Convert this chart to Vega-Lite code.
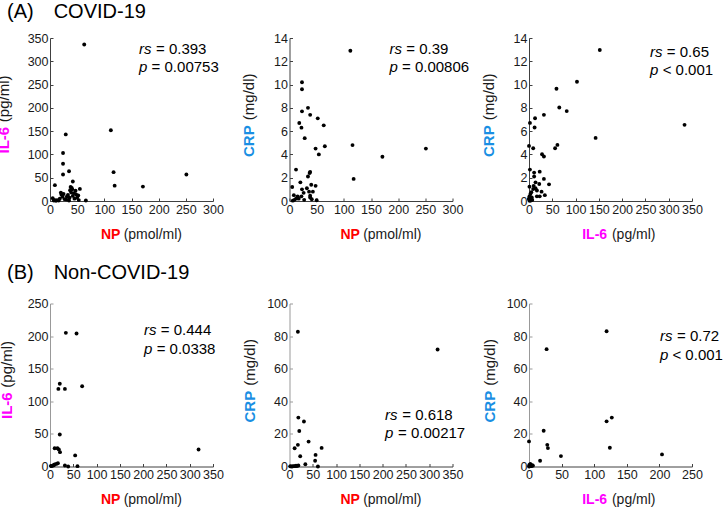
{
"$schema":"https://vega.github.io/schema/vega-lite/v6.json",
"padding":{"left":-5,"top":2,"right":2,"bottom":2},
"config":{"font":"Liberation Sans","view":{"stroke":null},
 "axis":{"grid":false,"labelFontSize":12.5,"labelColor":"#1a1a1a","titleFontSize":15,"titleColor":"#1a1a1a","titleFontWeight":"normal","domainColor":"#404040","tickColor":"#404040","tickSize":-3,"labelPadding":5,"labelFlush":false,"labelOverlap":false,"titlePadding":0},
 "axisX":{"titleFontSize":14},
 "text":{"font":"Liberation Sans","fontSize":15,"color":"#000"}},
"datasets":{
"p1":[{"NP":63,"IL6":336},{"NP":112,"IL6":152},{"NP":117,"IL6":62},{"NP":119,"IL6":33},{"NP":171,"IL6":31},{"NP":251,"IL6":57},{"NP":29,"IL6":143},{"NP":24,"IL6":103},{"NP":24,"IL6":80},{"NP":35,"IL6":64},{"NP":24,"IL6":57},{"NP":9,"IL6":34},{"NP":42,"IL6":42},{"NP":40,"IL6":28},{"NP":37,"IL6":23},{"NP":55,"IL6":26},{"NP":5,"IL6":6},{"NP":9,"IL6":2},{"NP":13,"IL6":2},{"NP":18,"IL6":5},{"NP":21,"IL6":14},{"NP":23,"IL6":9},{"NP":27,"IL6":4},{"NP":31,"IL6":9},{"NP":33,"IL6":13},{"NP":36,"IL6":7},{"NP":39,"IL6":18},{"NP":42,"IL6":11},{"NP":45,"IL6":5},{"NP":48,"IL6":14},{"NP":50,"IL6":7},{"NP":53,"IL6":2},{"NP":66,"IL6":1},{"NP":7,"IL6":1},{"NP":11,"IL6":0.5},{"NP":16,"IL6":1},{"NP":20,"IL6":18},{"NP":25,"IL6":15},{"NP":30,"IL6":3},{"NP":38,"IL6":30},{"NP":41,"IL6":25},{"NP":44,"IL6":17},{"NP":35,"IL6":1},{"NP":47,"IL6":22},{"NP":52,"IL6":12}],
"p2":[{"NP":112,"CRP":12.9},{"NP":116,"CRP":4.8},{"NP":118,"CRP":1.9},{"NP":171,"CRP":3.8},{"NP":251,"CRP":4.5},{"NP":23,"CRP":10.2},{"NP":23,"CRP":9.6},{"NP":34,"CRP":8.0},{"NP":23,"CRP":7.7},{"NP":38,"CRP":7.4},{"NP":18,"CRP":6.7},{"NP":22,"CRP":6.3},{"NP":52,"CRP":7.1},{"NP":63,"CRP":6.5},{"NP":28,"CRP":5.4},{"NP":48,"CRP":4.5},{"NP":65,"CRP":4.7},{"NP":54,"CRP":4.0},{"NP":12,"CRP":2.7},{"NP":34,"CRP":2.1},{"NP":38,"CRP":2.5},{"NP":37,"CRP":2.4},{"NP":20,"CRP":1.6},{"NP":5,"CRP":1.2},{"NP":23,"CRP":1.0},{"NP":32,"CRP":1.1},{"NP":40,"CRP":1.4},{"NP":48,"CRP":1.3},{"NP":36,"CRP":0.8},{"NP":43,"CRP":0.8},{"NP":8,"CRP":0.5},{"NP":15,"CRP":0.4},{"NP":22,"CRP":0.4},{"NP":26,"CRP":0.7},{"NP":27,"CRP":0.1},{"NP":12,"CRP":0.2},{"NP":6,"CRP":0.03},{"NP":38,"CRP":0.3},{"NP":41,"CRP":0.15},{"NP":50,"CRP":0.06},{"NP":9,"CRP":0.1},{"NP":17,"CRP":0.2},{"NP":38,"CRP":0.45}],
"p3":[{"IL6":152,"CRP":12.97},{"IL6":103,"CRP":10.24},{"IL6":59,"CRP":9.64},{"IL6":65,"CRP":8.03},{"IL6":81,"CRP":7.72},{"IL6":32,"CRP":7.4},{"IL6":13,"CRP":7.11},{"IL6":2,"CRP":6.71},{"IL6":12,"CRP":6.31},{"IL6":334,"CRP":6.54},{"IL6":143,"CRP":5.42},{"IL6":61,"CRP":4.82},{"IL6":56,"CRP":4.53},{"IL6":0,"CRP":4.73},{"IL6":9,"CRP":4.53},{"IL6":28,"CRP":4.02},{"IL6":32,"CRP":3.82},{"IL6":2,"CRP":2.7},{"IL6":23,"CRP":2.52},{"IL6":11,"CRP":2.44},{"IL6":11,"CRP":2.1},{"IL6":32,"CRP":1.9},{"IL6":43,"CRP":1.43},{"IL6":14,"CRP":1.6},{"IL6":22,"CRP":1.46},{"IL6":1,"CRP":1.23},{"IL6":9,"CRP":1.03},{"IL6":14,"CRP":1.09},{"IL6":5,"CRP":0.75},{"IL6":27,"CRP":0.8},{"IL6":17,"CRP":0.4},{"IL6":23,"CRP":0.4},{"IL6":34,"CRP":0.5},{"IL6":1,"CRP":0.4},{"IL6":0,"CRP":0.17},{"IL6":3,"CRP":0.03},{"IL6":7,"CRP":0.09},{"IL6":3,"CRP":0.6},{"IL6":10,"CRP":1.3},{"IL6":0,"CRP":0.2},{"IL6":6,"CRP":0.3},{"IL6":1,"CRP":0.03},{"IL6":17,"CRP":0.9}],
"p4":[{"NP":34,"IL6":205},{"NP":57,"IL6":204},{"NP":21,"IL6":127},{"NP":18,"IL6":119},{"NP":32,"IL6":119},{"NP":69,"IL6":123},{"NP":21,"IL6":49},{"NP":10,"IL6":28},{"NP":16,"IL6":28},{"NP":19,"IL6":26},{"NP":21.5,"IL6":22},{"NP":54,"IL6":17},{"NP":3,"IL6":0.5},{"NP":6.6,"IL6":1.5},{"NP":10,"IL6":3},{"NP":13.5,"IL6":4},{"NP":17,"IL6":5},{"NP":32,"IL6":1.5},{"NP":39,"IL6":0},{"NP":59,"IL6":0.5},{"NP":319,"IL6":26},{"NP":2,"IL6":1},{"NP":8,"IL6":2}],
"p5":[{"NP":18,"CRP":82.7},{"NP":318,"CRP":71.8},{"NP":19,"CRP":30},{"NP":31,"CRP":27.6},{"NP":21,"CRP":21.8},{"NP":41,"CRP":15.3},{"NP":18,"CRP":13.3},{"NP":11,"CRP":11.2},{"NP":69,"CRP":11.4},{"NP":23,"CRP":6.3},{"NP":56,"CRP":7.1},{"NP":55,"CRP":3.5},{"NP":34,"CRP":1.4},{"NP":61,"CRP":0},{"NP":19,"CRP":0.6},{"NP":5,"CRP":0},{"NP":9,"CRP":0.2},{"NP":12,"CRP":0.2},{"NP":16,"CRP":0.3},{"NP":1.4,"CRP":0.1},{"NP":3,"CRP":0.1},{"NP":14,"CRP":0.5},{"NP":7,"CRP":0.1}],
"p6":[{"IL6":119,"CRP":83},{"IL6":27,"CRP":72},{"IL6":127,"CRP":30},{"IL6":119,"CRP":27.7},{"IL6":22.5,"CRP":21.9},{"IL6":0,"CRP":15.4},{"IL6":28,"CRP":13.3},{"IL6":29,"CRP":11.3},{"IL6":124,"CRP":11.5},{"IL6":49,"CRP":6.4},{"IL6":204,"CRP":7.4},{"IL6":17,"CRP":3.5},{"IL6":1,"CRP":0.5},{"IL6":2,"CRP":1.5},{"IL6":4,"CRP":0.3},{"IL6":5,"CRP":0.8},{"IL6":0,"CRP":0},{"IL6":1,"CRP":0.1},{"IL6":3,"CRP":0.6},{"IL6":0.5,"CRP":1},{"IL6":2,"CRP":0.2},{"IL6":6,"CRP":0.5},{"IL6":1.5,"CRP":0.8}],
"one":[{}]
},
"columns":3,
"bounds":"flush",
"spacing":{"row":102.5,"column":76.5},
"concat":[
 {"width":163,"height":163,
  "title":{"text":"(A)\u2003COVID-19","anchor":"start","frame":"group","fontSize":20,"fontWeight":"normal","color":"#000","offset":-6,"baseline":"alphabetic","dx":-43},
  "layer":[
   {"data":{"name":"p1"},"mark":{"type":"circle","color":"#000","size":15,"opacity":1},
    "encoding":{
     "x":{"field":"NP","type":"quantitative","scale":{"domain":[0,300],"nice":false},"axis":{"values":[0,50,100,150,200,250,300],"title":"(pmol/ml)","titleAlign":"right","titleX":131.5,"titleY":37,"titleBaseline":"alphabetic"}},
     "y":{"field":"IL6","type":"quantitative","scale":{"domain":[0,350],"nice":false},"axis":{"values":[0,50,100,150,200,250,300,350],"title":"(pg/ml)","titleAlign":"right","titleX":-47,"titleY":37,"titleBaseline":"middle","titleAngle":-90}}}},
   {"data":{"name":"p1"},"mark":{"type":"circle","opacity":0},
    "encoding":{
     "x":{"field":"NP","type":"quantitative","axis":{"orient":"bottom","labels":false,"ticks":false,"domain":false,"title":"NP","titleColor":"#FF0000","titleFontWeight":"bold","titleAlign":"left","titleX":50.5,"titleY":37,"titleBaseline":"alphabetic"}},
     "y":{"field":"IL6","type":"quantitative","axis":{"orient":"left","labels":false,"ticks":false,"domain":false,"title":"IL-6","titleColor":"#FF00FF","titleFontWeight":"bold","titleAlign":"left","titleX":-47,"titleY":115,"titleBaseline":"middle","titleAngle":-90}}}},
   {"data":{"name":"one"},"mark":{"type":"text","text":"rs","fontStyle":"italic","align":"left","baseline":"alphabetic"},"encoding":{"x":{"datum":164,"type":"quantitative","axis":null},"y":{"datum":316,"type":"quantitative","axis":null}}},
   {"data":{"name":"one"},"mark":{"type":"text","text":"= 0.393","align":"left","baseline":"alphabetic"},"encoding":{"x":{"datum":195,"type":"quantitative","axis":null},"y":{"datum":316,"type":"quantitative","axis":null}}},
   {"data":{"name":"one"},"mark":{"type":"text","text":"p","fontStyle":"italic","align":"left","baseline":"alphabetic"},"encoding":{"x":{"datum":164,"type":"quantitative","axis":null},"y":{"datum":277,"type":"quantitative","axis":null}}},
   {"data":{"name":"one"},"mark":{"type":"text","text":"= 0.00753","align":"left","baseline":"alphabetic"},"encoding":{"x":{"datum":187,"type":"quantitative","axis":null},"y":{"datum":277,"type":"quantitative","axis":null}}}
  ],
  "resolve":{"axis":{"x":"independent","y":"independent"}}},
 {"width":163,"height":163,
  "layer":[
   {"data":{"name":"p2"},"mark":{"type":"circle","color":"#000","size":15,"opacity":1},
    "encoding":{
     "x":{"field":"NP","type":"quantitative","scale":{"domain":[0,300],"nice":false},"axis":{"values":[0,50,100,150,200,250,300],"title":"(pmol/ml)","titleAlign":"right","titleX":131.5,"titleY":37,"titleBaseline":"alphabetic"}},
     "y":{"field":"CRP","type":"quantitative","scale":{"domain":[0,14],"nice":false},"axis":{"values":[0,2,4,6,8,10,12,14],"title":"(mg/dl)","titleAlign":"right","titleX":-41,"titleY":35,"titleBaseline":"middle","titleAngle":-90}}}},
   {"data":{"name":"p2"},"mark":{"type":"circle","opacity":0},
    "encoding":{
     "x":{"field":"NP","type":"quantitative","axis":{"orient":"bottom","labels":false,"ticks":false,"domain":false,"title":"NP","titleColor":"#FF0000","titleFontWeight":"bold","titleAlign":"left","titleX":50.5,"titleY":37,"titleBaseline":"alphabetic"}},
     "y":{"field":"CRP","type":"quantitative","axis":{"orient":"left","labels":false,"ticks":false,"domain":false,"title":"CRP","titleColor":"#1A8FE3","titleFontWeight":"bold","titleAlign":"left","titleX":-41,"titleY":118.5,"titleBaseline":"middle","titleAngle":-90}}}},
   {"data":{"name":"one"},"mark":{"type":"text","text":"rs","fontStyle":"italic","align":"left","baseline":"alphabetic"},"encoding":{"x":{"datum":184,"type":"quantitative","axis":null},"y":{"datum":12.6,"type":"quantitative","axis":null}}},
   {"data":{"name":"one"},"mark":{"type":"text","text":"= 0.39","align":"left","baseline":"alphabetic"},"encoding":{"x":{"datum":215,"type":"quantitative","axis":null},"y":{"datum":12.6,"type":"quantitative","axis":null}}},
   {"data":{"name":"one"},"mark":{"type":"text","text":"p","fontStyle":"italic","align":"left","baseline":"alphabetic"},"encoding":{"x":{"datum":184,"type":"quantitative","axis":null},"y":{"datum":11.06,"type":"quantitative","axis":null}}},
   {"data":{"name":"one"},"mark":{"type":"text","text":"= 0.00806","align":"left","baseline":"alphabetic"},"encoding":{"x":{"datum":207,"type":"quantitative","axis":null},"y":{"datum":11.06,"type":"quantitative","axis":null}}}
  ],
  "resolve":{"axis":{"x":"independent","y":"independent"}}},
 {"width":163,"height":163,
  "layer":[
   {"data":{"name":"p3"},"mark":{"type":"circle","color":"#000","size":15,"opacity":1},
    "encoding":{
     "x":{"field":"IL6","type":"quantitative","scale":{"domain":[0,350],"nice":false},"axis":{"values":[0,50,100,150,200,250,300,350],"title":"(pg/ml)","titleAlign":"right","titleX":126,"titleY":37,"titleBaseline":"alphabetic"}},
     "y":{"field":"CRP","type":"quantitative","scale":{"domain":[0,14],"nice":false},"axis":{"values":[0,2,4,6,8,10,12,14],"title":"(mg/dl)","titleAlign":"right","titleX":-41,"titleY":35,"titleBaseline":"middle","titleAngle":-90}}}},
   {"data":{"name":"p3"},"mark":{"type":"circle","opacity":0},
    "encoding":{
     "x":{"field":"IL6","type":"quantitative","axis":{"orient":"bottom","labels":false,"ticks":false,"domain":false,"title":"IL-6","titleColor":"#FF00FF","titleFontWeight":"bold","titleAlign":"left","titleX":52.7,"titleY":37,"titleBaseline":"alphabetic"}},
     "y":{"field":"CRP","type":"quantitative","axis":{"orient":"left","labels":false,"ticks":false,"domain":false,"title":"CRP","titleColor":"#1A8FE3","titleFontWeight":"bold","titleAlign":"left","titleX":-41,"titleY":118.5,"titleBaseline":"middle","titleAngle":-90}}}},
   {"data":{"name":"one"},"mark":{"type":"text","text":"rs","fontStyle":"italic","align":"left","baseline":"alphabetic"},"encoding":{"x":{"datum":260,"type":"quantitative","axis":null},"y":{"datum":12.4,"type":"quantitative","axis":null}}},
   {"data":{"name":"one"},"mark":{"type":"text","text":"= 0.65","align":"left","baseline":"alphabetic"},"encoding":{"x":{"datum":296,"type":"quantitative","axis":null},"y":{"datum":12.4,"type":"quantitative","axis":null}}},
   {"data":{"name":"one"},"mark":{"type":"text","text":"p","fontStyle":"italic","align":"left","baseline":"alphabetic"},"encoding":{"x":{"datum":260,"type":"quantitative","axis":null},"y":{"datum":10.8,"type":"quantitative","axis":null}}},
   {"data":{"name":"one"},"mark":{"type":"text","text":"< 0.001","align":"left","baseline":"alphabetic"},"encoding":{"x":{"datum":287,"type":"quantitative","axis":null},"y":{"datum":10.8,"type":"quantitative","axis":null}}}
  ],
  "resolve":{"axis":{"x":"independent","y":"independent"}}},
 {"width":163,"height":163,
  "title":{"text":"(B)\u2003Non-COVID-19","anchor":"start","frame":"group","fontSize":20,"fontWeight":"normal","color":"#000","offset":-1,"baseline":"alphabetic","dx":-43},
  "layer":[
   {"data":{"name":"p4"},"mark":{"type":"circle","color":"#000","size":15,"opacity":1},
    "encoding":{
     "x":{"field":"NP","type":"quantitative","scale":{"domain":[0,350],"nice":false},"axis":{"values":[0,50,100,150,200,250,300,350],"title":"(pmol/ml)","titleAlign":"right","titleX":131.5,"titleY":37,"titleBaseline":"alphabetic"}},
     "y":{"field":"IL6","type":"quantitative","scale":{"domain":[0,250],"nice":false},"axis":{"values":[0,50,100,150,200,250],"title":"(pg/ml)","titleAlign":"right","titleX":-44,"titleY":37,"titleBaseline":"middle","titleAngle":-90,"domainColor":"#999999","tickColor":"#999999"}}}},
   {"data":{"name":"p4"},"mark":{"type":"circle","opacity":0},
    "encoding":{
     "x":{"field":"NP","type":"quantitative","axis":{"orient":"bottom","labels":false,"ticks":false,"domain":false,"title":"NP","titleColor":"#FF0000","titleFontWeight":"bold","titleAlign":"left","titleX":50.5,"titleY":37,"titleBaseline":"alphabetic"}},
     "y":{"field":"IL6","type":"quantitative","axis":{"orient":"left","labels":false,"ticks":false,"domain":false,"title":"IL-6","titleColor":"#FF00FF","titleFontWeight":"bold","titleAlign":"left","titleX":-44,"titleY":115,"titleBaseline":"middle","titleAngle":-90}}}},
   {"data":{"name":"one"},"mark":{"type":"text","text":"rs","fontStyle":"italic","align":"left","baseline":"alphabetic"},"encoding":{"x":{"datum":202,"type":"quantitative","axis":null},"y":{"datum":201,"type":"quantitative","axis":null}}},
   {"data":{"name":"one"},"mark":{"type":"text","text":"= 0.444","align":"left","baseline":"alphabetic"},"encoding":{"x":{"datum":238,"type":"quantitative","axis":null},"y":{"datum":201,"type":"quantitative","axis":null}}},
   {"data":{"name":"one"},"mark":{"type":"text","text":"p","fontStyle":"italic","align":"left","baseline":"alphabetic"},"encoding":{"x":{"datum":202,"type":"quantitative","axis":null},"y":{"datum":172,"type":"quantitative","axis":null}}},
   {"data":{"name":"one"},"mark":{"type":"text","text":"= 0.0338","align":"left","baseline":"alphabetic"},"encoding":{"x":{"datum":229,"type":"quantitative","axis":null},"y":{"datum":172,"type":"quantitative","axis":null}}}
  ],
  "resolve":{"axis":{"x":"independent","y":"independent"}}},
 {"width":163,"height":163,
  "layer":[
   {"data":{"name":"p5"},"mark":{"type":"circle","color":"#000","size":15,"opacity":1},
    "encoding":{
     "x":{"field":"NP","type":"quantitative","scale":{"domain":[0,350],"nice":false},"axis":{"values":[0,50,100,150,200,250,300,350],"title":"(pmol/ml)","titleAlign":"right","titleX":131.5,"titleY":37,"titleBaseline":"alphabetic"}},
     "y":{"field":"CRP","type":"quantitative","scale":{"domain":[0,100],"nice":false},"axis":{"values":[0,20,40,60,80,100],"title":"(mg/dl)","titleAlign":"right","titleX":-40,"titleY":35,"titleBaseline":"middle","titleAngle":-90,"domainColor":"#999999","tickColor":"#999999"}}}},
   {"data":{"name":"p5"},"mark":{"type":"circle","opacity":0},
    "encoding":{
     "x":{"field":"NP","type":"quantitative","axis":{"orient":"bottom","labels":false,"ticks":false,"domain":false,"title":"NP","titleColor":"#FF0000","titleFontWeight":"bold","titleAlign":"left","titleX":50.5,"titleY":37,"titleBaseline":"alphabetic"}},
     "y":{"field":"CRP","type":"quantitative","axis":{"orient":"left","labels":false,"ticks":false,"domain":false,"title":"CRP","titleColor":"#1A8FE3","titleFontWeight":"bold","titleAlign":"left","titleX":-40,"titleY":118.5,"titleBaseline":"middle","titleAngle":-90}}}},
   {"data":{"name":"one"},"mark":{"type":"text","text":"rs","fontStyle":"italic","align":"left","baseline":"alphabetic"},"encoding":{"x":{"datum":205,"type":"quantitative","axis":null},"y":{"datum":28.7,"type":"quantitative","axis":null}}},
   {"data":{"name":"one"},"mark":{"type":"text","text":"= 0.618","align":"left","baseline":"alphabetic"},"encoding":{"x":{"datum":242,"type":"quantitative","axis":null},"y":{"datum":28.7,"type":"quantitative","axis":null}}},
   {"data":{"name":"one"},"mark":{"type":"text","text":"p","fontStyle":"italic","align":"left","baseline":"alphabetic"},"encoding":{"x":{"datum":205,"type":"quantitative","axis":null},"y":{"datum":17.2,"type":"quantitative","axis":null}}},
   {"data":{"name":"one"},"mark":{"type":"text","text":"= 0.00217","align":"left","baseline":"alphabetic"},"encoding":{"x":{"datum":233,"type":"quantitative","axis":null},"y":{"datum":17.2,"type":"quantitative","axis":null}}}
  ],
  "resolve":{"axis":{"x":"independent","y":"independent"}}},
 {"width":163,"height":163,
  "layer":[
   {"data":{"name":"p6"},"mark":{"type":"circle","color":"#000","size":15,"opacity":1},
    "encoding":{
     "x":{"field":"IL6","type":"quantitative","scale":{"domain":[0,250],"nice":false},"axis":{"values":[0,50,100,150,200,250],"title":"(pg/ml)","titleAlign":"right","titleX":126,"titleY":37,"titleBaseline":"alphabetic"}},
     "y":{"field":"CRP","type":"quantitative","scale":{"domain":[0,100],"nice":false},"axis":{"values":[0,20,40,60,80,100],"title":"(mg/dl)","titleAlign":"right","titleX":-40,"titleY":35,"titleBaseline":"middle","titleAngle":-90,"domainColor":"#999999","tickColor":"#999999"}}}},
   {"data":{"name":"p6"},"mark":{"type":"circle","opacity":0},
    "encoding":{
     "x":{"field":"IL6","type":"quantitative","axis":{"orient":"bottom","labels":false,"ticks":false,"domain":false,"title":"IL-6","titleColor":"#FF00FF","titleFontWeight":"bold","titleAlign":"left","titleX":52.7,"titleY":37,"titleBaseline":"alphabetic"}},
     "y":{"field":"CRP","type":"quantitative","axis":{"orient":"left","labels":false,"ticks":false,"domain":false,"title":"CRP","titleColor":"#1A8FE3","titleFontWeight":"bold","titleAlign":"left","titleX":-40,"titleY":118.5,"titleBaseline":"middle","titleAngle":-90}}}},
   {"data":{"name":"one"},"mark":{"type":"text","text":"rs","fontStyle":"italic","align":"left","baseline":"alphabetic"},"encoding":{"x":{"datum":201,"type":"quantitative","axis":null},"y":{"datum":76.7,"type":"quantitative","axis":null}}},
   {"data":{"name":"one"},"mark":{"type":"text","text":"= 0.72","align":"left","baseline":"alphabetic"},"encoding":{"x":{"datum":227,"type":"quantitative","axis":null},"y":{"datum":76.7,"type":"quantitative","axis":null}}},
   {"data":{"name":"one"},"mark":{"type":"text","text":"p","fontStyle":"italic","align":"left","baseline":"alphabetic"},"encoding":{"x":{"datum":201,"type":"quantitative","axis":null},"y":{"datum":65.2,"type":"quantitative","axis":null}}},
   {"data":{"name":"one"},"mark":{"type":"text","text":"< 0.001","align":"left","baseline":"alphabetic"},"encoding":{"x":{"datum":220,"type":"quantitative","axis":null},"y":{"datum":65.2,"type":"quantitative","axis":null}}}
  ],
  "resolve":{"axis":{"x":"independent","y":"independent"}}}
]
}
